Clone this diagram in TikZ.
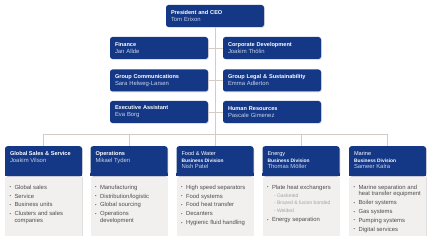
\documentclass[tikz,border=0pt]{standalone}
\usepackage{fontspec}
\setmainfont{Liberation Sans}
\usetikzlibrary{shadows}
\definecolor{alblue}{HTML}{143886}
\definecolor{albody}{HTML}{F1F0EE}
\definecolor{alline}{HTML}{D3CCC5}
\definecolor{alname}{HTML}{C9D3EA}
\definecolor{altext}{HTML}{4E4E4E}
\definecolor{alsub}{HTML}{A3A3A3}
\newcommand{\who}[2]{\textbf{#1}\\{\fontsize{5.9}{7}\selectfont\color{alname}#2}}
\newcommand{\divn}{\\{\fontsize{4.9}{6.2}\selectfont\bfseries Business Division}}
\newcommand{\bodyfmt}{\fontsize{5.9}{6.6}\selectfont\raggedright\setlength{\parskip}{2.3pt}\color{altext}}
\newcommand{\bul}[1]{\par\hangindent=5pt\hangafter=1\noindent\hbox to 5pt{\raisebox{0.5pt}{\scalebox{0.7}{\textbullet}}\hss}#1}
\newcommand{\subbul}[1]{\par\vspace{-1pt}\noindent\hspace*{7pt}{\fontsize{5}{6}\selectfont\color{alsub}- #1}}
\newcommand{\cardlist}[1]{\parbox[t][47pt][t]{68pt}{\bodyfmt #1}}
\newcommand{\cardhead}[1]{\parbox[t][19pt][t]{67pt}{\fontsize{5.6}{6.6}\selectfont #1}}

\begin{document}
\begin{tikzpicture}[x=1pt, y=-1pt,
  boss/.style={fill=alblue, rounded corners=2.5pt, text=white, minimum width=98pt, minimum height=22pt,
    text width=88pt, inner xsep=5pt, align=left, font=\fontsize{5.6}{7}\selectfont,
    drop shadow={shadow xshift=0.8pt, shadow yshift=-0.8pt, opacity=0.25}},
  divhead/.style={fill=alblue, rounded corners=2.5pt, text=white, minimum width=77pt, anchor=north,
    inner xsep=5pt, inner ysep=5.5pt, drop shadow={shadow xshift=0.8pt, shadow yshift=-0.8pt, opacity=0.25}},
  divbody/.style={fill=albody, minimum width=77pt, anchor=north, inner xsep=4.5pt, inner ysep=6pt,
    drop shadow={shadow xshift=0.8pt, shadow yshift=-0.8pt, opacity=0.25}},
  link/.style={draw=alline, line width=0.9pt}]
\useasboundingbox (0,0) rectangle (431,240);
% management
\node[boss] (ceo) at (215,16) {\who{President and CEO}{Tom Erixon}};
\node[boss] (fin) at (159,48) {\who{Finance}{Jan Allde}};
\node[boss] (cd) at (272,48) {\who{Corporate Development}{Joakim Thölin}};
\node[boss] (gc) at (159,80.5) {\who{Group Communications}{Sara Helweg-Larsen}};
\node[boss] (gl) at (272,80.5) {\who{Group Legal \& Sustainability}{Emma Adlerton}};
\node[boss] (ea) at (159,112) {\who{Executive Assistant}{Eva Borg}};
\node[boss] (hr) at (272,112) {\who{Human Resources}{Pascale Gimenez}};
\coordinate (bus) at (215,134);
% divisions
\node[divhead] (gss) at (43.5,146) {\cardhead{\textbf{Global Sales \& Service}\\{\fontsize{5.9}{6.6}\selectfont\color{alname}Joakim Vilson}}};
\node[divhead] (ops) at (129,146) {\cardhead{\textbf{Operations}\\{\fontsize{5.9}{6.6}\selectfont\color{alname}Mikael Tyden}}};
\node[divhead] (fw) at (215,146) {\cardhead{Food \& Water\divn\\{\fontsize{5.9}{6.6}\selectfont\color{alname}Nish Patel}}};
\node[divhead] (en) at (301,146) {\cardhead{Energy\divn\\{\fontsize{5.9}{6.6}\selectfont\color{alname}Thomas Möller}}};
\node[divhead] (mar) at (387.5,146) {\cardhead{Marine\divn\\{\fontsize{5.9}{6.6}\selectfont\color{alname}Sameer Kalra}}};
\foreach \n in {gss,ops,fw,en,mar}
  \fill[alblue] ([yshift=3pt]\n.south west) rectangle (\n.south east);
\node[divbody] (gssb) at (gss.south) {\cardlist{\bul{Global sales}\bul{Service}\bul{Business units}\bul{Clusters and sales companies}}};
\node[divbody] (opsb) at (ops.south) {\cardlist{\bul{Manufacturing}\bul{Distribution/logistic}\bul{Global sourcing}\bul{Operations development}}};
\node[divbody] (fwb) at (fw.south) {\cardlist{\bul{High speed separators}\bul{Food systems}\bul{Food heat transfer}\bul{Decanters}\bul{Hygienic fluid handling}}};
\node[divbody] (enb) at (en.south) {\cardlist{\bul{Plate heat exchangers}\subbul{Gasketed}\subbul{Brazed \& fusion bonded}\subbul{Welded}\bul{Energy separation}}};
\node[divbody] (marb) at (mar.south) {\cardlist{\bul{Marine separation and heat transfer equipment}\bul{Boiler systems}\bul{Gas systems}\bul{Pumping systems}\bul{Digital services}}};
% connectors
\draw[link] (ceo) -- (bus);
\draw[link] (fin) -- (cd);
\draw[link] (gc) -- (gl);
\draw[link] (ea) -- (hr);
\draw[link] (gss |- bus) -- (mar |- bus);
\draw[link] (gss |- bus) -- (gss);
\draw[link] (ops |- bus) -- (ops);
\draw[link] (bus) -- (fw);
\draw[link] (en |- bus) -- (en);
\draw[link] (mar |- bus) -- (mar);
\end{tikzpicture}
\end{document}
